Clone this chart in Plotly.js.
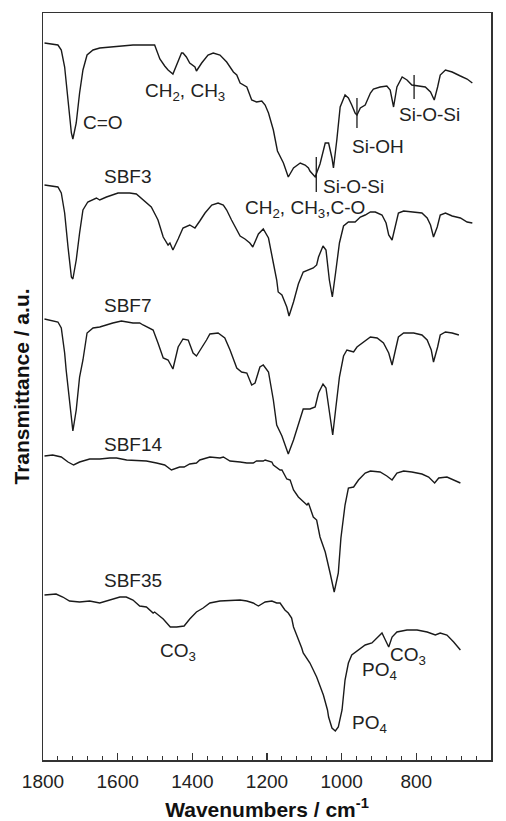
<!DOCTYPE html>
<html>
<head>
<meta charset="utf-8">
<script src="https://cdn.plot.ly/plotly-3.0.1.min.js"></script>
<style>html,body{margin:0;padding:0;background:#fff;}#chart{width:506px;height:821px;}</style>
</head>
<body>
<div id="chart"></div>
<script>
// FTIR spectra, wavenumber (cm-1) and transmittance (arbitrary units, stacked)
var hybridWn = [1796,1760,1751,1742,1733,1724,1720,1711,1702,1693,1682,1666,1648,1613,1559,1501,1487,1474,1465,1452,1442,1429,1425,1416,1407,1393,1389,1375,1358,1344,1326,1308,1290,1281,1272,1254,1241,1228,1214,1205,1196,1183,1172,1156,1143,1129,1111,1098,1089,1085,1071,1058,1044,1035,1026,1022,1013,1004,991,982,973,964,959,950,937,923,915,897,879,870,861,852,838,825,812,798,776,762,752,743,736,722,704,682,664,650];
var hybridT  = [717,715,710,693,660,627,621,637,667,690,705,710,712,713,715,715,701,694,690,686,695,707,707,703,697,693,689,697,705,707,705,698,688,685,677,673,660,658,659,655,647,630,609,597,583,592,597,595,592,589,583,596,617,617,602,592,620,653,665,662,655,647,645,652,655,667,671,673,674,670,653,673,683,680,675,674,673,668,660,673,685,690,688,684,681,677];

var sbf3Wn = [1796,1760,1751,1742,1733,1724,1720,1711,1702,1693,1680,1657,1648,1630,1599,1568,1550,1541,1523,1510,1496,1492,1478,1465,1460,1452,1438,1425,1407,1393,1380,1366,1348,1331,1317,1308,1295,1281,1272,1259,1246,1238,1223,1210,1196,1183,1174,1170,1160,1147,1141,1129,1116,1103,1089,1076,1067,1062,1050,1042,1033,1025,1016,1006,995,982,964,950,937,923,910,892,881,874,865,856,848,834,807,785,771,762,754,744,736,722,704,682,664,650];
var sbf3T  = [575,573,567,547,513,483,481,500,527,550,558,562,560,563,567,567,566,563,557,553,543,540,523,515,517,510,521,532,535,532,539,547,555,557,555,550,540,530,524,521,517,513,526,531,522,497,480,468,465,453,444,458,476,488,490,492,495,503,514,510,480,463,488,517,534,538,538,543,545,548,548,545,537,525,520,533,547,549,548,547,542,535,523,533,545,547,544,542,538,537];

var sbf7Wn = [1796,1760,1751,1742,1738,1729,1720,1711,1702,1693,1682,1666,1648,1613,1590,1559,1541,1532,1505,1492,1478,1465,1452,1438,1425,1411,1398,1389,1375,1362,1353,1331,1313,1299,1281,1268,1254,1241,1232,1219,1210,1196,1183,1174,1160,1149,1143,1129,1116,1103,1085,1071,1062,1050,1042,1033,1024,1016,1006,995,986,977,968,959,941,923,905,888,874,865,856,848,834,807,785,771,760,754,743,736,722,704,686];
var sbf7T  = [441,438,432,407,390,357,329,350,383,400,427,432,433,437,439,437,437,435,430,417,402,400,391,413,421,420,407,404,412,420,426,427,422,410,392,388,387,375,377,393,395,388,360,335,324,313,306,320,335,351,351,353,367,376,372,346,325,351,383,404,410,409,408,413,418,423,422,417,407,395,410,423,427,427,425,420,410,398,413,425,428,427,425];

var sbf14Wn = [1796,1774,1751,1733,1718,1702,1675,1648,1621,1603,1576,1541,1523,1496,1474,1456,1434,1422,1407,1389,1380,1353,1326,1317,1299,1272,1254,1237,1228,1210,1205,1187,1183,1165,1160,1147,1138,1129,1116,1093,1089,1076,1067,1058,1044,1031,1020,1009,1002,991,982,968,955,937,923,897,879,865,852,834,812,785,767,751,740,718,700,682];
var sbf14T  = [304,305,303,298,295,298,301,301,302,302,300,299,299,297,295,290,293,293,296,297,300,303,302,303,299,298,297,297,299,299,300,298,295,290,290,281,280,270,263,255,257,243,240,223,208,187,168,187,222,255,272,273,280,287,289,288,284,280,287,289,288,286,283,277,282,283,280,277];

var sbf35Wn = [1796,1765,1747,1729,1702,1675,1648,1621,1594,1577,1559,1541,1523,1505,1501,1478,1459,1442,1422,1407,1389,1371,1362,1353,1326,1290,1272,1254,1246,1237,1223,1210,1205,1187,1174,1165,1152,1143,1134,1129,1120,1116,1107,1103,1085,1067,1049,1038,1035,1026,1017,1009,999,991,982,973,955,937,919,904,892,883,874,865,852,825,798,771,749,736,718,700,682];
var sbf35T  = [165,166,163,159,158,159,157,160,163,163,160,154,153,147,148,141,133,133,134,141,148,152,155,157,159,160,160,159,158,157,154,157,158,159,157,157,150,147,142,133,125,120,112,107,97,83,65,50,43,32,29,33,50,80,97,105,110,115,117,122,127,120,113,123,128,130,130,128,125,127,125,118,110];

// band-assignment marker bars
var barWn   = [1068, 959, 806];
var barLow  = [568, 632, 661];
var barHigh = [603, 662, 685];

// labels
var labelText = ["C=O","CH<sub>2</sub>, CH<sub>3</sub>","SBF3","Si-O-Si","Si-OH","Si-O-Si","CH<sub>2</sub>, CH<sub>3</sub>,C-O","SBF7","SBF14","SBF35","CO<sub>3</sub>","PO<sub>4</sub>","CO<sub>3</sub>","PO<sub>4</sub>"];
var labelWn   = [1697,1533,1643,1055,977,851,1264,1643,1643,1643,1493,950,875,977];
var labelT    = [638,668,584,574,614,646,551,455,316,180,108,89,104,36];

var FONT = "Liberation Sans, Arial, sans-serif";
var lineStyle = {color:'#1a1a1a', width:1.4};

var series = [[hybridWn,hybridT],[sbf3Wn,sbf3T],[sbf7Wn,sbf7T],[sbf14Wn,sbf14T],[sbf35Wn,sbf35T]];
var traces = series.map(function(s){
  return {x:s[0], y:s[1], type:'scatter', mode:'lines', line:lineStyle, hoverinfo:'skip', showlegend:false};
});
for (var i=0;i<barWn.length;i++){
  traces.push({x:[barWn[i],barWn[i]], y:[barLow[i],barHigh[i]], type:'scatter', mode:'lines', line:{color:'#1a1a1a', width:1.3}, hoverinfo:'skip', showlegend:false});
}

var annotations = labelText.map(function(t,i){
  return {x:labelWn[i], y:labelT[i], xref:'x', yref:'y', text:t, showarrow:false,
          xanchor:'left', yanchor:'middle', font:{family:FONT, size:19, color:'#222'}};
});

var layout = {
  width:506, height:821,
  margin:{l:43, r:15, t:13, b:61},
  paper_bgcolor:'#fff', plot_bgcolor:'#fff',
  showlegend:false,
  xaxis:{
    range:[1800,600], autorange:false,
    tickmode:'linear', tick0:600, dtick:200,
    ticks:'inside', ticklen:7, tickwidth:1.3, tickcolor:'#333',
    minor:{dtick:40, ticks:'inside', ticklen:4, tickwidth:1, tickcolor:'#333'},
    showline:true, linecolor:'#333', linewidth:1.5, mirror:true,
    showgrid:false, zeroline:false,
    ticklabelstandoff:4,
    tickfont:{family:FONT, size:19, color:'#222'},
    title:{text:'<b>Wavenumbers / cm<sup>-1</sup></b>', font:{family:FONT, size:21, color:'#111'}, standoff:16}
  },
  yaxis:{
    range:[0,747], autorange:false,
    showticklabels:false, ticks:'',
    showline:true, linecolor:'#333', linewidth:1.5, mirror:true,
    showgrid:false, zeroline:false,
    title:{text:'<b>Transmittance / a.u.</b>', font:{family:FONT, size:21, color:'#111'}, standoff:6}
  },
  annotations:annotations
};

Plotly.newPlot('chart', traces, layout, {staticPlot:true, displayModeBar:false});
</script>
</body>
</html>
